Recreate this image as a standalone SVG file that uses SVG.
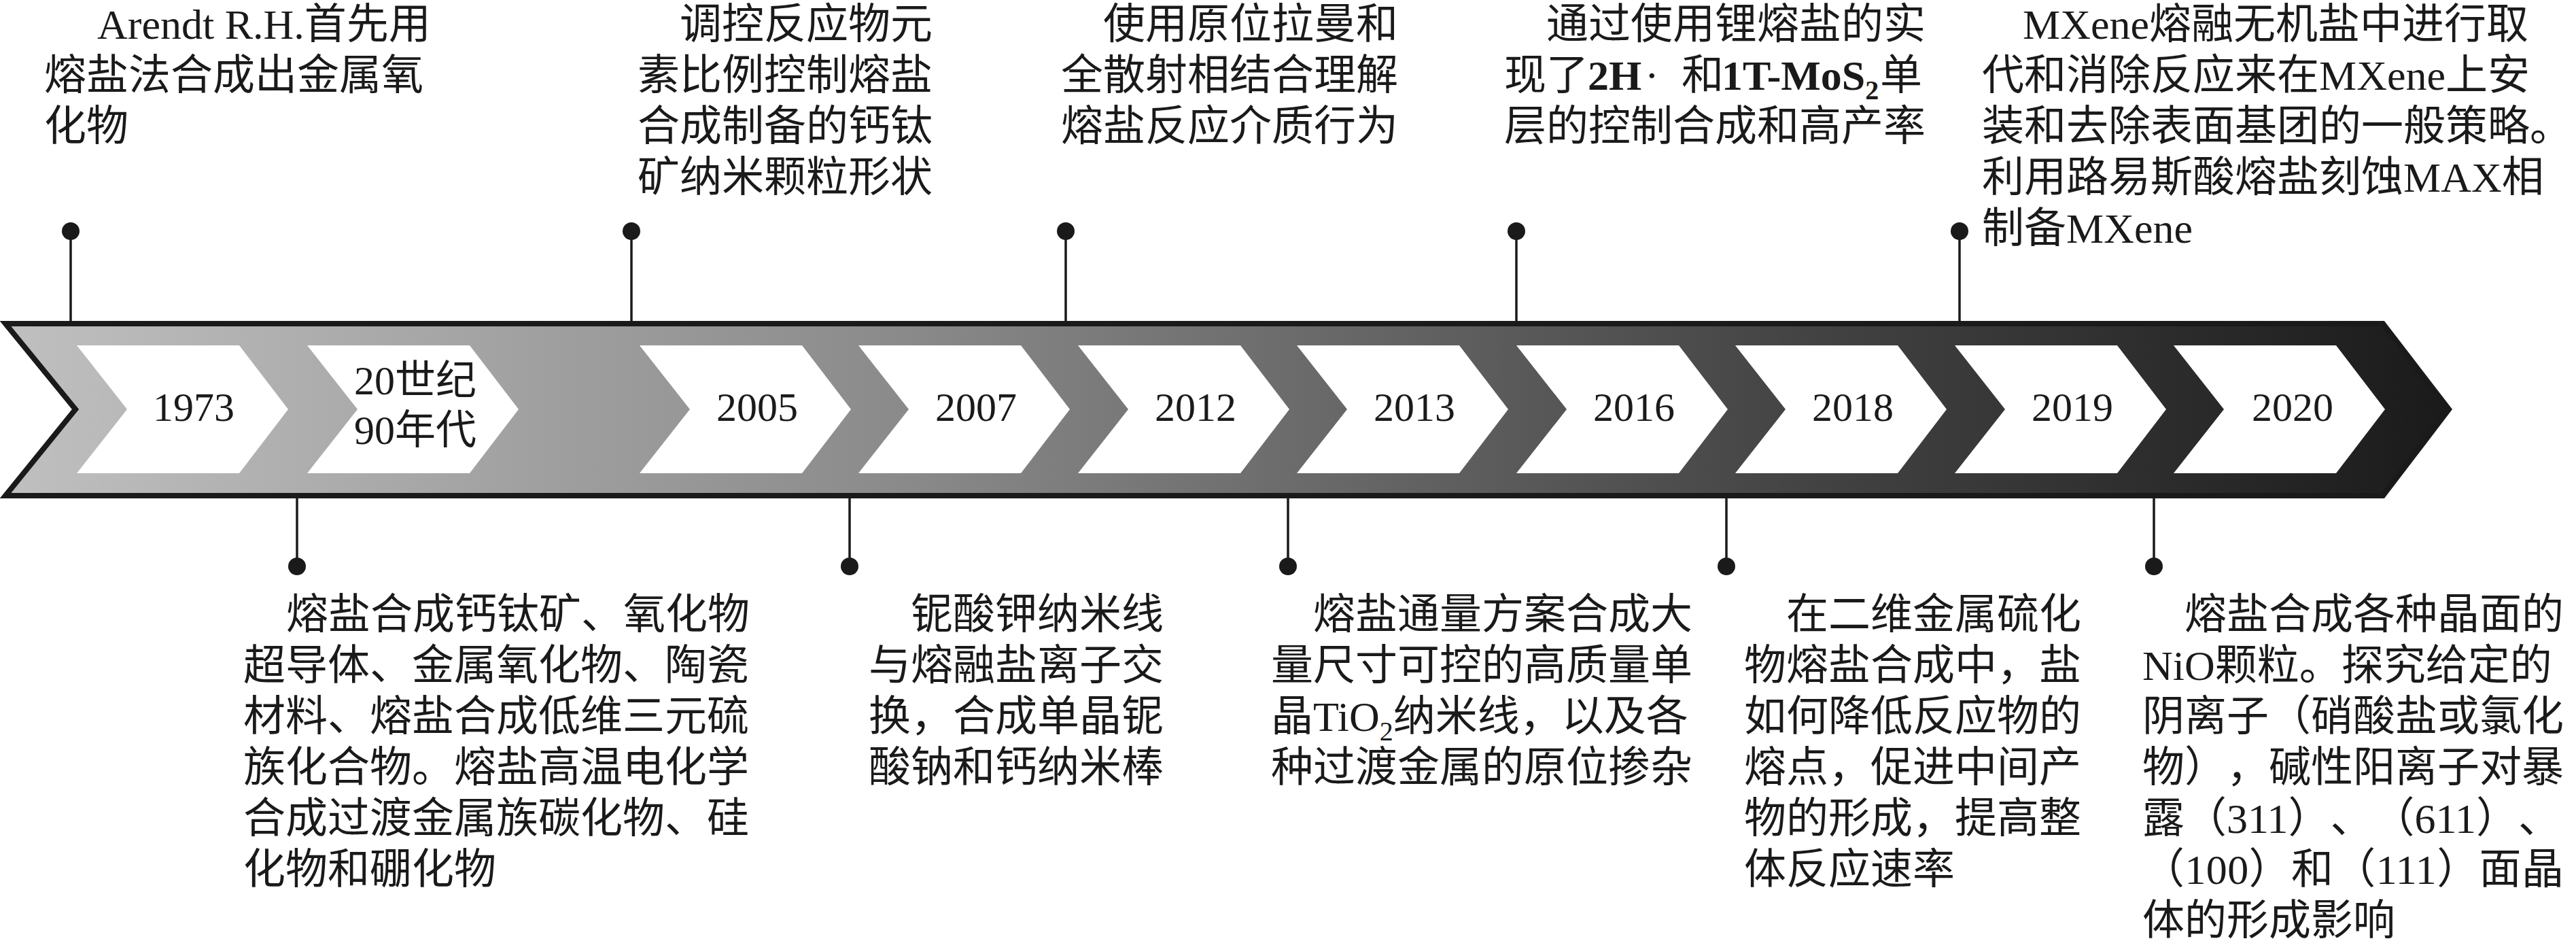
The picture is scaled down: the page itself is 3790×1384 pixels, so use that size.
<svg xmlns="http://www.w3.org/2000/svg" xmlns:xlink="http://www.w3.org/1999/xlink" width="3790" height="1384" viewBox="0 0 3790 1384">
<style>
.t{font-family:"Liberation Serif","Noto Sans CJK SC",serif;font-size:62px;fill:#1a1a1a;text-spacing-trim:space-all}
.yr{font-family:"Liberation Serif","Noto Sans CJK SC",serif;font-size:60px;fill:#1a1a1a;text-anchor:middle}
.b{font-weight:bold}
.con{stroke:#1a1a1a;stroke-width:3.5;fill:none;marker-start:url(#dot)}
.chev{fill:#ffffff}
</style>
<defs>
<linearGradient id="g" gradientUnits="userSpaceOnUse" x1="0" y1="0" x2="3607" y2="0">
<stop offset="0" stop-color="#c0c0c0"/>
<stop offset="0.37" stop-color="#8a8a8a"/>
<stop offset="0.72" stop-color="#464646"/>
<stop offset="1" stop-color="#1a1a1a"/>
</linearGradient>
<marker id="dot" markerUnits="userSpaceOnUse" markerWidth="30" markerHeight="30" viewBox="-15 -15 30 30" refX="0" refY="0" orient="auto">
<circle r="13" fill="#1a1a1a"/>
</marker>
<path id="chev" d="M0,0 H239 L311,94 L239,188 H0 L74,94 Z"/>
</defs>

<g id="timeline-arrow">
<path d="M8,476 H3506 L3603,602 L3506,729 H8 L111,602 Z" fill="url(#g)" stroke="#1a1a1a" stroke-width="8" stroke-linejoin="miter"/>
</g>

<g id="connectors">
<line class="con" x1="104" y1="340" x2="104" y2="472"/>
<line class="con" x1="929" y1="340" x2="929" y2="472"/>
<line class="con" x1="1568" y1="340" x2="1568" y2="472"/>
<line class="con" x1="2231" y1="340" x2="2231" y2="472"/>
<line class="con" x1="2883" y1="340" x2="2883" y2="472"/>
<line class="con" x1="437" y1="833" x2="437" y2="733"/>
<line class="con" x1="1250" y1="833" x2="1250" y2="733"/>
<line class="con" x1="1895" y1="833" x2="1895" y2="733"/>
<line class="con" x1="2540" y1="833" x2="2540" y2="733"/>
<line class="con" x1="3169" y1="833" x2="3169" y2="733"/>
</g>

<g id="y1973"><use xlink:href="#chev" href="#chev" class="chev" x="113" y="508"/><text class="yr" x="285" y="619">1973</text></g>
<g id="y1990s"><use xlink:href="#chev" href="#chev" class="chev" x="452" y="508"/><text class="yr" x="611" y="580">20世纪</text><text class="yr" x="611" y="653">90年代</text></g>
<g id="y2005"><use xlink:href="#chev" href="#chev" class="chev" x="941" y="508"/><text class="yr" x="1114" y="619">2005</text></g>
<g id="y2007"><use xlink:href="#chev" href="#chev" class="chev" x="1263" y="508"/><text class="yr" x="1436" y="619">2007</text></g>
<g id="y2012"><use xlink:href="#chev" href="#chev" class="chev" x="1586" y="508"/><text class="yr" x="1759" y="619">2012</text></g>
<g id="y2013"><use xlink:href="#chev" href="#chev" class="chev" x="1908" y="508"/><text class="yr" x="2081" y="619">2013</text></g>
<g id="y2016"><use xlink:href="#chev" href="#chev" class="chev" x="2231" y="508"/><text class="yr" x="2404" y="619">2016</text></g>
<g id="y2018"><use xlink:href="#chev" href="#chev" class="chev" x="2553" y="508"/><text class="yr" x="2726" y="619">2018</text></g>
<g id="y2019"><use xlink:href="#chev" href="#chev" class="chev" x="2876" y="508"/><text class="yr" x="3049" y="619">2019</text></g>
<g id="y2020"><use xlink:href="#chev" href="#chev" class="chev" x="3198" y="508"/><text class="yr" x="3373" y="619">2020</text></g>

<g id="note-1973">
<text class="t" x="143" y="57">Arendt R.H.首先用</text>
<text class="t" x="65" y="132">熔盐法合成出金属氧</text>
<text class="t" x="65" y="207">化物</text>
</g>
<g id="note-1990s">
<text class="t" x="421" y="925">熔盐合成钙钛矿、氧化物</text>
<text class="t" x="358" y="1000">超导体、金属氧化物、陶瓷</text>
<text class="t" x="358" y="1075">材料、熔盐合成低维三元硫</text>
<text class="t" x="358" y="1150">族化合物。熔盐高温电化学</text>
<text class="t" x="358" y="1225">合成过渡金属族碳化物、硅</text>
<text class="t" x="358" y="1300">化物和硼化物</text>
</g>
<g id="note-2005">
<text class="t" x="1000" y="57">调控反应物元</text>
<text class="t" x="938" y="132">素比例控制熔盐</text>
<text class="t" x="938" y="207">合成制备的钙钛</text>
<text class="t" x="938" y="282">矿纳米颗粒形状</text>
</g>
<g id="note-2007">
<text class="t" x="1340" y="925">铌酸钾纳米线</text>
<text class="t" x="1278" y="1000">与熔融盐离子交</text>
<text class="t" x="1278" y="1075">换，合成单晶铌</text>
<text class="t" x="1278" y="1150">酸钠和钙纳米棒</text>
</g>
<g id="note-2012">
<text class="t" x="1623" y="57">使用原位拉曼和</text>
<text class="t" x="1561" y="132">全散射相结合理解</text>
<text class="t" x="1561" y="207">熔盐反应介质行为</text>
</g>
<g id="note-2013">
<text class="t" x="1932" y="925">熔盐通量方案合成大</text>
<text class="t" x="1870" y="1000">量尺寸可控的高质量单</text>
<text class="t" x="1870" y="1075">晶TiO<tspan font-size="40" dy="14">2</tspan><tspan dy="-14">纳米线，以及各</tspan></text>
<text class="t" x="1870" y="1150">种过渡金属的原位掺杂</text>
</g>
<g id="note-2016">
<text class="t" x="2275" y="57">通过使用锂熔盐的实</text>
<text class="t" x="2213" y="132">现了<tspan class="b" x="2336">2H</tspan><tspan x="2420">·</tspan><tspan x="2474">和</tspan><tspan class="b" x="2533">1T-MoS</tspan><tspan class="b" font-size="40" dy="14">2</tspan><tspan x="2766" dy="-14">单</tspan></text>
<text class="t" x="2213" y="207">层的控制合成和高产率</text>
</g>
<g id="note-2018">
<text class="t" x="2628" y="925">在二维金属硫化</text>
<text class="t" x="2566" y="1000">物熔盐合成中，盐</text>
<text class="t" x="2566" y="1075">如何降低反应物的</text>
<text class="t" x="2566" y="1150">熔点，促进中间产</text>
<text class="t" x="2566" y="1225">物的形成，提高整</text>
<text class="t" x="2566" y="1300">体反应速率</text>
</g>
<g id="note-2019">
<text class="t" x="2976" y="57">MXene熔融无机盐中进行取</text>
<text class="t" x="2916" y="132">代和消除反应来在MXene上安</text>
<text class="t" x="2916" y="207">装和去除表面基团的一般策略。</text>
<text class="t" x="2916" y="282">利用路易斯酸熔盐刻蚀MAX相</text>
<text class="t" x="2916" y="357">制备MXene</text>
</g>
<g id="note-2020">
<text class="t" x="3214" y="925">熔盐合成各种晶面的</text>
<text class="t" x="3152" y="1000">NiO颗粒。探究给定的</text>
<text class="t" x="3152" y="1075" textLength="620" lengthAdjust="spacing">阴离子（硝酸盐或氯化</text>
<text class="t" x="3152" y="1150" textLength="620" lengthAdjust="spacing">物），碱性阳离子对暴</text>
<text class="t" x="3152" y="1225" textLength="615" lengthAdjust="spacing">露（311）、（611）、</text>
<text class="t" x="3152" y="1300" textLength="620" lengthAdjust="spacing">（100）和（111）面晶</text>
<text class="t" x="3152" y="1375">体的形成影响</text>
</g>
</svg>
